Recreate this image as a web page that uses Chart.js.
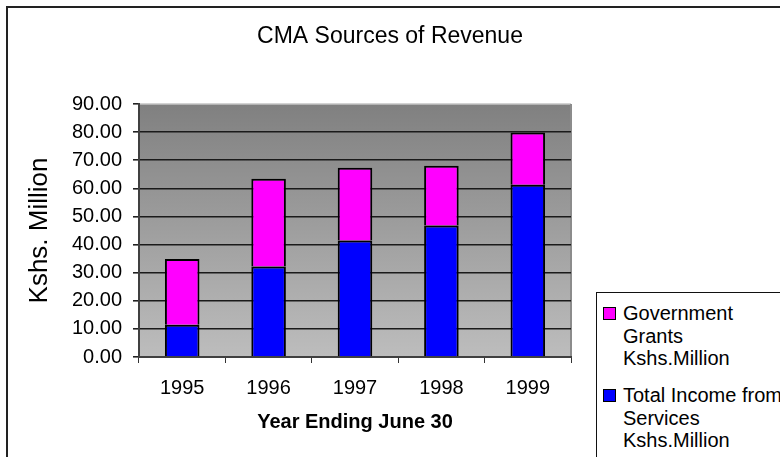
<!DOCTYPE html>
<html>
<head>
<meta charset="utf-8">
<script src="https://cdn.jsdelivr.net/npm/chart.js@4/dist/chart.umd.min.js"></script>
<style>
  html, body { margin: 0; padding: 0; background: #fff; overflow: hidden; }
  #wrap { position: relative; width: 780px; height: 457px; overflow: hidden; }
  #legend {
    position: absolute; left: 596px; top: 292px; width: 260px; height: 220px;
    border: 1.5px solid #111; background: #fff; box-sizing: border-box;
    font-family: 'Liberation Sans', Arial, sans-serif; font-size: 20px; color: #000;
  }
  .item { position: absolute; left: 6px; white-space: nowrap; line-height: 22.5px; }
  .sw { position: absolute; left: 0; top: 5px; width: 11px; height: 11px; border: 1.5px solid #000; }
  .txt { position: absolute; left: 20px; top: 0; }
</style>
</head>
<body>
<div id="wrap">
  <canvas id="c" width="780" height="457"></canvas>
  <div id="legend"></div>
</div>
<script>
// ---- data ----
const years = ['1995', '1996', '1997', '1998', '1999'];
const incomeFromServices = [11.5, 32.2, 41.4, 46.8, 61.3];
const governmentGrants = [23.4, 31.2, 25.9, 21.2, 18.6];
const yTicks = [0, 10, 20, 30, 40, 50, 60, 70, 80, 90];
const incomeLabel = ['Total Income from', 'Services', 'Kshs.Million'];
const grantsLabel = ['Government', 'Grants', 'Kshs.Million'];
const chartTitle = 'CMA Sources of Revenue';
const xTitle = 'Year Ending June 30';
const yTitle = 'Kshs. Million';

const FONT = "'Liberation Sans', Arial, sans-serif";

const bgPlugin = {
  id: 'bg',
  beforeDraw(chart) {
    const ctx = chart.ctx;
    const a = chart.chartArea;
    ctx.save();
    // outer frame
    ctx.strokeStyle = '#222';
    ctx.lineWidth = 2;
    ctx.strokeRect(7, 7, 820, 520);
    // plot area gradient
    const g = ctx.createLinearGradient(0, a.top, 0, a.bottom);
    g.addColorStop(0, '#808080');
    g.addColorStop(1, '#bdbdbd');
    ctx.fillStyle = g;
    ctx.fillRect(a.left, a.top, a.right - a.left, a.bottom - a.top);
    // top / right edges
    ctx.strokeStyle = '#c4c4c4';
    ctx.lineWidth = 1.5;
    ctx.beginPath();
    ctx.moveTo(a.left, a.top);
    ctx.lineTo(a.right, a.top);
    ctx.stroke();
    ctx.strokeStyle = '#8c8c8c';
    ctx.lineWidth = 2;
    ctx.beginPath();
    ctx.moveTo(a.right, a.top);
    ctx.lineTo(a.right, a.bottom);
    ctx.stroke();
    ctx.restore();
  }
};

const chart = new Chart(document.getElementById('c'), {
  type: 'bar',
  data: {
    labels: years,
    datasets: [
      {
        label: incomeLabel.join(' '),
        data: incomeFromServices,
        backgroundColor: '#0000ff',
        borderColor: '#000',
        borderWidth: 2,
        borderSkipped: 'bottom'
      },
      {
        label: grantsLabel.join(' '),
        data: governmentGrants,
        backgroundColor: '#ff00ff',
        borderColor: '#000',
        borderWidth: 2,
        borderSkipped: 'bottom'
      }
    ]
  },
  options: {
    responsive: false,
    devicePixelRatio: 1,
    animation: false,
    layout: { padding: 0 },
    datasets: { bar: { categoryPercentage: 1.0, barPercentage: 0.4 } },
    plugins: {
      legend: { display: false },
      tooltip: { enabled: false },
      title: {
        display: true,
        text: chartTitle,
        color: '#000',
        font: { family: FONT, size: 23, weight: 'normal', lineHeight: 1.2 },
        padding: { top: 23, bottom: 53.4 }
      }
    },
    scales: {
      x: {
        stacked: true,
        afterFit(s) { s.height = 100; },
        border: { display: true, color: '#404040', width: 2 },
        grid: { drawOnChartArea: false, drawTicks: true, tickLength: 6, color: '#333', offset: true },
        ticks: { color: '#000', padding: 13, font: { family: FONT, size: 20 } },
        title: {
          display: true, text: xTitle, color: '#000',
          font: { family: FONT, size: 20, weight: 'bold', lineHeight: 1.2 },
          padding: { top: 0, bottom: 23 }
        }
      },
      y: {
        stacked: true,
        min: 0, max: 90,
        afterFit(s) { s.width = 139; },
        afterBuildTicks(s) { s.ticks = yTicks.map(v => ({ value: v })); },
        border: { display: true, color: '#404040', width: 2 },
        grid: {
          drawTicks: true, tickLength: 6,
          color: (c) => (c.tick && c.tick.value === 90) ? 'rgba(0,0,0,0)' : '#1a1a1a',
          tickColor: '#222',
          lineWidth: 1.6
        },
        ticks: {
          color: '#000', padding: 11,
          font: { family: FONT, size: 20 },
          callback: (v) => Number(v).toFixed(2)
        },
        title: {
          display: true, text: yTitle, color: '#000',
          font: { family: FONT, size: 26, weight: 'normal', lineHeight: 1.2 },
          padding: { top: 24, bottom: 0 }
        }
      },
      // empty right-hand space reserved for the legend area
      yRight: {
        position: 'right',
        display: true,
        min: 0, max: 90,
        afterFit(s) { s.width = 209; },
        border: { display: false },
        grid: { display: false, drawOnChartArea: false },
        ticks: { display: false }
      }
    }
  },
  plugins: [bgPlugin]
});

// HTML legend built from the chart datasets (reversed, as in the reference)
const legend = document.getElementById('legend');
const legendItems = [
  { lines: grantsLabel, color: chart.data.datasets[1].backgroundColor, top: 9 },
  { lines: incomeLabel, color: chart.data.datasets[0].backgroundColor, top: 91 }
];
legendItems.forEach(it => {
  const d = document.createElement('div');
  d.className = 'item';
  d.style.top = it.top + 'px';
  const sw = document.createElement('div');
  sw.className = 'sw';
  sw.style.background = it.color;
  const t = document.createElement('div');
  t.className = 'txt';
  t.innerHTML = it.lines.join('<br>');
  d.appendChild(sw);
  d.appendChild(t);
  legend.appendChild(d);
});
</script>
</body>
</html>
